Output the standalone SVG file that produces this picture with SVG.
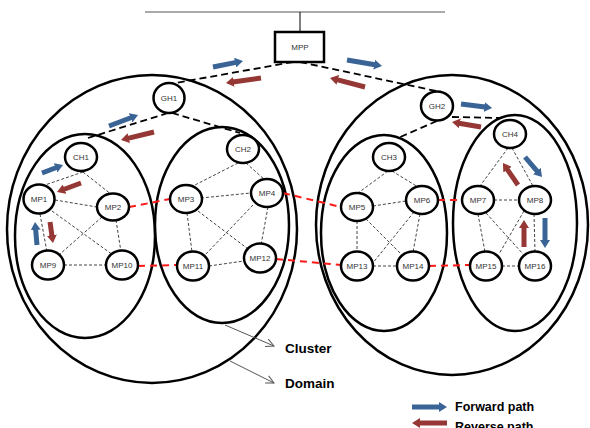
<svg xmlns="http://www.w3.org/2000/svg" width="590" height="428" viewBox="0 0 590 428">
<style>
.ring{fill:none;stroke:#000;stroke-width:2.5}
.nd{fill:#fff;stroke:#000;stroke-width:2.5}
.lb{font-family:"Liberation Sans",Arial,sans-serif;font-size:8px;fill:#333;text-anchor:middle;dominant-baseline:central}
.hier{stroke:#000;stroke-width:1.8;stroke-dasharray:7 4;fill:none}
.mesh{stroke:#444;stroke-width:1;stroke-dasharray:3 2;fill:none}
.red{stroke:#ff1a1a;stroke-width:2;stroke-dasharray:7 5;fill:none}
.fw{stroke:#3a6496;stroke-width:5;marker-end:url(#hb)}
.rv{stroke:#953735;stroke-width:5;marker-end:url(#hr)}
.pt{stroke:#555;stroke-width:1;fill:none;marker-end:url(#open)}
.big{font-family:"Liberation Sans",Arial,sans-serif;font-weight:bold;fill:#000}
</style>
<defs>
<marker id="hb" markerUnits="userSpaceOnUse" markerWidth="8" markerHeight="10" viewBox="0 0 8 10" refX="1" refY="5" orient="auto"><path d="M0,0 L8,5 L0,10 z" fill="#3a6496"/></marker>
<marker id="hr" markerUnits="userSpaceOnUse" markerWidth="8" markerHeight="10" viewBox="0 0 8 10" refX="1" refY="5" orient="auto"><path d="M0,0 L8,5 L0,10 z" fill="#953735"/></marker>
<marker id="open" markerUnits="userSpaceOnUse" markerWidth="10" markerHeight="10" viewBox="0 0 10 10" refX="9" refY="5" orient="auto"><path d="M1,1 L9,5 L1,9" fill="none" stroke="#555" stroke-width="1"/></marker>
</defs>

<!-- top bus -->
<line x1="145" y1="12" x2="445" y2="12" stroke="#555" stroke-width="1"/>
<line x1="300" y1="12" x2="300" y2="32" stroke="#000" stroke-width="1"/>

<!-- domains and clusters -->
<g id="domain1"><ellipse class="ring" cx="152" cy="229" rx="145" ry="154"/></g>
<g id="domain2"><ellipse class="ring" cx="452" cy="225" rx="136" ry="150"/></g>
<g id="cluster1"><ellipse class="ring" cx="85" cy="236" rx="70" ry="102"/></g>
<g id="cluster2"><ellipse class="ring" cx="222" cy="225" rx="67" ry="98"/></g>
<g id="cluster3"><ellipse class="ring" cx="384" cy="233" rx="63" ry="98"/></g>
<g id="cluster4"><ellipse class="ring" cx="515" cy="223" rx="62" ry="108"/></g>

<g id="connectors">
<!-- hierarchy -->
<line class="hier" x1="293" y1="62" x2="170" y2="84"/>
<line class="hier" x1="300" y1="62" x2="436" y2="91"/>
<line class="hier" x1="168" y1="113" x2="88" y2="138"/>
<line class="hier" x1="172" y1="113" x2="240" y2="133"/>
<line class="hier" x1="437" y1="121" x2="398" y2="138"/>
<line class="hier" x1="452" y1="117" x2="502" y2="118"/>
<!-- cluster1 mesh -->
<line class="mesh" x1="83" y1="172" x2="45" y2="185"/>
<line class="mesh" x1="83" y1="172" x2="112" y2="195"/>
<line class="mesh" x1="55" y1="200" x2="97" y2="207"/>
<line class="mesh" x1="40" y1="214" x2="47" y2="252"/>
<line class="mesh" x1="52" y1="211" x2="113" y2="255"/>
<line class="mesh" x1="102" y1="217" x2="60" y2="254"/>
<line class="mesh" x1="116" y1="220" x2="121" y2="252"/>
<line class="mesh" x1="64" y1="265" x2="106" y2="265"/>
<!-- cluster2 mesh -->
<line class="mesh" x1="238" y1="163" x2="193" y2="186"/>
<line class="mesh" x1="246" y1="163" x2="265" y2="180"/>
<line class="mesh" x1="201" y1="198" x2="251" y2="193"/>
<line class="mesh" x1="187" y1="213" x2="192" y2="252"/>
<line class="mesh" x1="198" y1="211" x2="248" y2="249"/>
<line class="mesh" x1="253" y1="205" x2="205" y2="255"/>
<line class="mesh" x1="268" y1="207" x2="261" y2="245"/>
<line class="mesh" x1="209" y1="266" x2="244" y2="261"/>
<!-- cluster3 mesh -->
<line class="mesh" x1="388" y1="171" x2="358" y2="193"/>
<line class="mesh" x1="392" y1="171" x2="418" y2="187"/>
<line class="mesh" x1="373" y1="206" x2="406" y2="201"/>
<line class="mesh" x1="357" y1="221" x2="357" y2="252"/>
<line class="mesh" x1="366" y1="219" x2="401" y2="254"/>
<line class="mesh" x1="414" y1="212" x2="372" y2="264"/>
<line class="mesh" x1="420" y1="214" x2="413" y2="252"/>
<line class="mesh" x1="373" y1="266" x2="397" y2="266"/>
<!-- cluster4 mesh -->
<line class="mesh" x1="508" y1="148" x2="480" y2="186"/>
<line class="mesh" x1="512" y1="148" x2="533" y2="186"/>
<line class="mesh" x1="494" y1="200" x2="519" y2="200"/>
<line class="mesh" x1="478" y1="214" x2="485" y2="252"/>
<line class="mesh" x1="486" y1="213" x2="523" y2="254"/>
<line class="mesh" x1="524" y1="211" x2="499" y2="254"/>
<line class="mesh" x1="534" y1="214" x2="535" y2="252"/>
<line class="mesh" x1="502" y1="266" x2="519" y2="266"/>
<!-- inter-cluster -->
<line class="red" x1="129" y1="207" x2="170" y2="199"/>
<line class="red" x1="138" y1="266" x2="177" y2="265"/>
<line class="red" x1="283" y1="193" x2="341" y2="207"/>
<line class="red" x1="276" y1="259" x2="341" y2="265"/>
<line class="red" x1="438" y1="200" x2="462" y2="200"/>
<line class="red" x1="429" y1="266" x2="470" y2="265"/>
<!-- paths -->
<line class="fw" x1="213" y1="67" x2="236.1" y2="62.4"/>
<line class="rv" x1="261" y1="78" x2="232.9" y2="82"/>
<line class="fw" x1="109" y1="126" x2="131.5" y2="117.5"/>
<line class="rv" x1="154" y1="132" x2="127.8" y2="138.4"/>
<line class="fw" x1="347" y1="60" x2="375.1" y2="64.8"/>
<line class="rv" x1="365" y1="87" x2="336.8" y2="79.7"/>
<line class="fw" x1="461" y1="104" x2="485.1" y2="107.1"/>
<line class="rv" x1="481" y1="127" x2="458.9" y2="123.2"/>
<line class="fw" x1="42" y1="173" x2="56.5" y2="167.5"/>
<line class="rv" x1="81" y1="183" x2="63.6" y2="189.5"/>
<line class="fw" x1="37" y1="245" x2="35.6" y2="229"/>
<line class="rv" x1="50" y1="222" x2="52" y2="236.1"/>
<line class="rv" x1="518" y1="185" x2="506.9" y2="168.8"/>
<line class="fw" x1="525" y1="157" x2="537.5" y2="171.7"/>
<line class="rv" x1="524" y1="247" x2="524" y2="227"/>
<line class="fw" x1="545" y1="218" x2="545" y2="241"/>
<!-- label pointers -->
<line class="pt" x1="225" y1="325" x2="274" y2="346"/>
<line class="pt" x1="230" y1="361" x2="274" y2="383"/>
<!-- legend -->
<line class="fw" x1="412" y1="407" x2="440" y2="407"/>
<line class="rv" x1="447" y1="423" x2="419" y2="423"/>
</g>

<g id="MPP"><rect x="275" y="32" width="49" height="30" fill="#fff" stroke="#000" stroke-width="2.5"/><text class="lb" x="300" y="47">MPP</text></g>
<g id="GH1"><ellipse class="nd" cx="169" cy="98" rx="15.5" ry="15"/><text class="lb" x="169" y="98">GH1</text></g>
<g id="GH2"><ellipse class="nd" cx="437" cy="106" rx="16" ry="14.5"/><text class="lb" x="437" y="106">GH2</text></g>
<g id="CH1"><ellipse class="nd" cx="81" cy="157" rx="16" ry="14"/><text class="lb" x="81" y="157">CH1</text></g>
<g id="CH2"><ellipse class="nd" cx="243" cy="149" rx="16" ry="14"/><text class="lb" x="243" y="149">CH2</text></g>
<g id="CH3"><ellipse class="nd" cx="389" cy="157" rx="16" ry="14"/><text class="lb" x="389" y="157">CH3</text></g>
<g id="CH4"><ellipse class="nd" cx="510" cy="134" rx="16" ry="14"/><text class="lb" x="510" y="134">CH4</text></g>
<g id="MP1"><ellipse class="nd" cx="39" cy="199" rx="15.5" ry="14.5"/><text class="lb" x="39" y="199">MP1</text></g>
<g id="MP2"><ellipse class="nd" cx="113" cy="207" rx="16" ry="13.5"/><text class="lb" x="113" y="207">MP2</text></g>
<g id="MP3"><ellipse class="nd" cx="186" cy="199" rx="16" ry="14"/><text class="lb" x="186" y="199">MP3</text></g>
<g id="MP4"><ellipse class="nd" cx="267" cy="193" rx="16" ry="14"/><text class="lb" x="267" y="193">MP4</text></g>
<g id="MP5"><ellipse class="nd" cx="357" cy="207" rx="16" ry="14"/><text class="lb" x="357" y="207">MP5</text></g>
<g id="MP6"><ellipse class="nd" cx="422" cy="200" rx="16" ry="14"/><text class="lb" x="422" y="200">MP6</text></g>
<g id="MP7"><ellipse class="nd" cx="478" cy="200" rx="16" ry="14"/><text class="lb" x="478" y="200">MP7</text></g>
<g id="MP8"><ellipse class="nd" cx="535" cy="200" rx="16" ry="14"/><text class="lb" x="535" y="200">MP8</text></g>
<g id="MP9"><ellipse class="nd" cx="48" cy="265" rx="16" ry="14.5"/><text class="lb" x="48" y="265">MP9</text></g>
<g id="MP10"><ellipse class="nd" cx="122" cy="265" rx="16" ry="14.5"/><text class="lb" x="122" y="265">MP10</text></g>
<g id="MP11"><ellipse class="nd" cx="193" cy="266" rx="16" ry="14.5"/><text class="lb" x="193" y="266">MP11</text></g>
<g id="MP12"><ellipse class="nd" cx="260" cy="258" rx="16" ry="14.5"/><text class="lb" x="260" y="258">MP12</text></g>
<g id="MP13"><ellipse class="nd" cx="357" cy="266" rx="16" ry="14.5"/><text class="lb" x="357" y="266">MP13</text></g>
<g id="MP14"><ellipse class="nd" cx="413" cy="266" rx="16" ry="14.5"/><text class="lb" x="413" y="266">MP14</text></g>
<g id="MP15"><ellipse class="nd" cx="486" cy="266" rx="16" ry="14.5"/><text class="lb" x="486" y="266">MP15</text></g>
<g id="MP16"><ellipse class="nd" cx="535" cy="266" rx="16" ry="14.5"/><text class="lb" x="535" y="266">MP16</text></g>

<g id="labels">
<text class="big" x="285" y="353" font-size="13.5">Cluster</text>
<text class="big" x="285" y="388" font-size="13.5">Domain</text>
<text class="big" x="455" y="411" font-size="12.5">Forward path</text>
<text class="big" x="455" y="431" font-size="12.5">Reverse path</text>
</g>
</svg>
